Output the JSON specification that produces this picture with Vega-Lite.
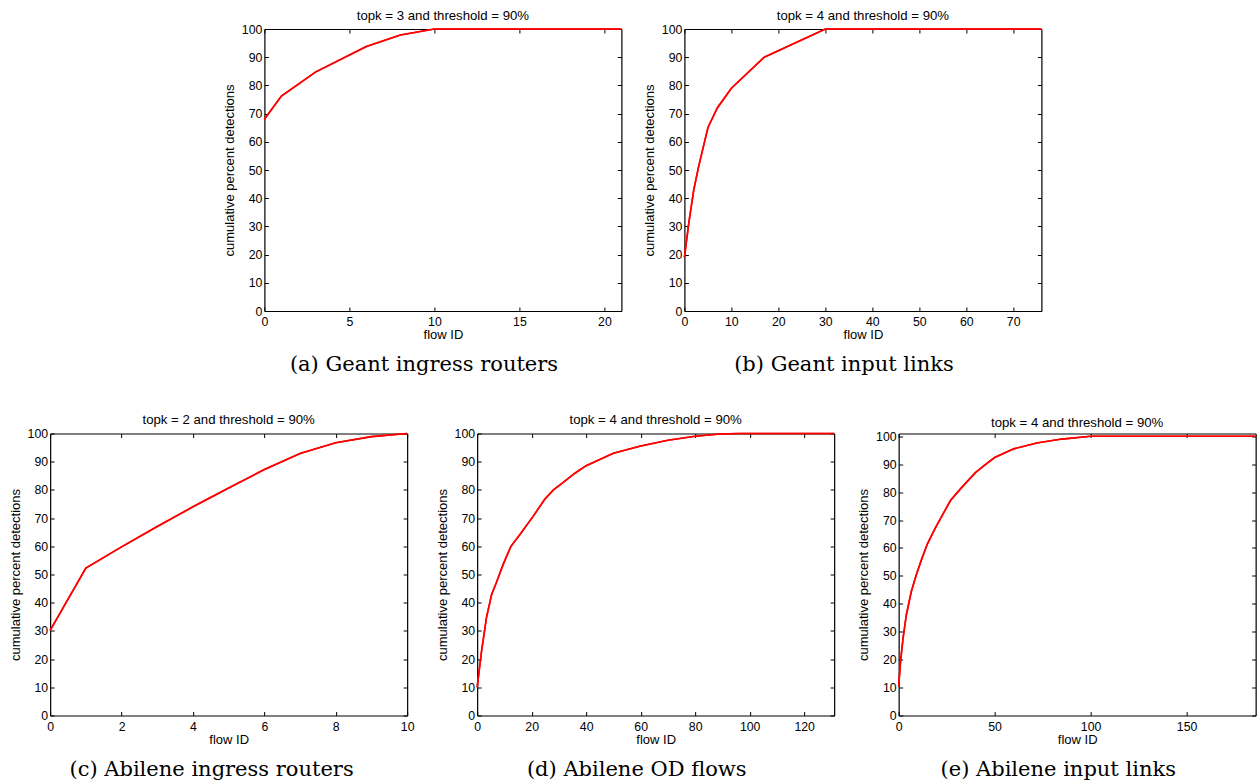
{
  "$schema": "https://vega.github.io/schema/vega-lite/v6.json",
  "background": "white",
  "padding": {"left": 9, "top": 8, "right": 2, "bottom": 2},
  "config": {
    "view": {"stroke": null},
    "axis": {
      "labelFont": "Liberation Sans", "labelFontSize": 12.3, "labelColor": "#000",
      "titleFont": "Liberation Sans", "titleFontSize": 13, "titleFontWeight": "normal", "titleColor": "#000",
      "domainColor": "#000", "domainWidth": 1.2, "tickColor": "#000", "tickSize": -4, "tickWidth": 1,
      "grid": false, "labelFlush": false, "labelOverlap": false
    },
    "axisX": {"titlePadding": 1, "labelPadding": 8.5},
    "axisY": {"titlePadding": 5, "labelPadding": 6.5}
  },
  "datasets": {
    "a": [{"flow":0,"pct":68},{"flow":1,"pct":76.2},{"flow":3,"pct":84.7},{"flow":6,"pct":93.8},{"flow":8,"pct":97.9},{"flow":10,"pct":100},{"flow":21,"pct":100}],
    "b": [{"flow":0,"pct":19},{"flow":1,"pct":32},{"flow":2,"pct":43},{"flow":3,"pct":51},{"flow":5,"pct":65},{"flow":7,"pct":72},{"flow":10,"pct":79},{"flow":17,"pct":90},{"flow":30,"pct":100},{"flow":76,"pct":100}],
    "c": [{"flow":0,"pct":30.2},{"flow":1,"pct":52.3},{"flow":2,"pct":59.8},{"flow":3,"pct":67},{"flow":4,"pct":74},{"flow":5,"pct":80.7},{"flow":6,"pct":87.2},{"flow":7,"pct":92.9},{"flow":8,"pct":96.7},{"flow":9,"pct":98.9},{"flow":10,"pct":100}],
    "d": [{"flow":0,"pct":10},{"flow":1.6,"pct":22.7},{"flow":3.4,"pct":34.6},{"flow":5.3,"pct":42.9},{"flow":7,"pct":47},{"flow":9.5,"pct":53.5},{"flow":12.4,"pct":60},{"flow":15.7,"pct":64.2},{"flow":20.6,"pct":70.7},{"flow":24.8,"pct":76.7},{"flow":28,"pct":80},{"flow":31,"pct":82.2},{"flow":36,"pct":86},{"flow":40,"pct":88.6},{"flow":50,"pct":93},{"flow":60,"pct":95.6},{"flow":70,"pct":97.6},{"flow":80,"pct":99},{"flow":89,"pct":99.8},{"flow":96,"pct":100},{"flow":131,"pct":100}],
    "e": [{"flow":0,"pct":10.4},{"flow":1,"pct":19.4},{"flow":2.3,"pct":27.7},{"flow":4,"pct":36},{"flow":6.6,"pct":44.4},{"flow":9.2,"pct":50.4},{"flow":12,"pct":56},{"flow":15,"pct":61.5},{"flow":19,"pct":67},{"flow":23,"pct":72},{"flow":27,"pct":77},{"flow":33,"pct":81.8},{"flow":40,"pct":87},{"flow":45,"pct":89.8},{"flow":50,"pct":92.4},{"flow":60,"pct":95.5},{"flow":72,"pct":97.6},{"flow":85,"pct":99},{"flow":100,"pct":100},{"flow":186,"pct":100}]
  },
  "center": true,
  "spacing": 36.5,
  "vconcat": [
    {
      "spacing": 17,
      "hconcat": [
        {
          "title": {"text": "(a) Geant ingress routers", "orient": "bottom", "anchor": "middle", "font": "DejaVu Serif", "fontSize": 21, "fontWeight": "normal", "color": "#000", "offset": 12.5},
          "vconcat": [{
            "width": 357, "height": 282,
            "title": {"text": "topk = 3 and threshold = 90%", "font": "Liberation Sans", "fontSize": 13.2, "fontWeight": "normal", "color": "#000", "offset": 0},
            "data": {"name": "a"},
            "layer": [
              {"mark": {"type": "line", "color": "#ff0000", "strokeWidth": 1.6},
               "encoding": {
                 "x": {"field": "flow", "type": "quantitative", "scale": {"domain": [0, 21], "nice": false}, "axis": {"orient": "bottom", "title": "flow ID", "values": [0,5,10,15,20]}},
                 "y": {"field": "pct", "type": "quantitative", "scale": {"domain": [0, 100], "nice": false}, "axis": {"orient": "left", "title": "cumulative percent detections", "values": [0,10,20,30,40,50,60,70,80,90,100]}}}},
              {"mark": {"type": "line", "color": "#ff0000", "strokeWidth": 1.6},
               "encoding": {
                 "x": {"field": "flow", "type": "quantitative", "axis": {"orient": "top", "title": null, "labels": false, "values": [0,5,10,15,20]}},
                 "y": {"field": "pct", "type": "quantitative", "axis": {"orient": "right", "title": null, "labels": false, "values": [0,10,20,30,40,50,60,70,80,90,100]}}}}
            ],
            "resolve": {"axis": {"x": "independent", "y": "independent"}}
          }]
        },
        {
          "title": {"text": "(b) Geant input links", "orient": "bottom", "anchor": "middle", "font": "DejaVu Serif", "fontSize": 21, "fontWeight": "normal", "color": "#000", "offset": 12.5},
          "vconcat": [{
            "width": 357, "height": 282,
            "title": {"text": "topk = 4 and threshold = 90%", "font": "Liberation Sans", "fontSize": 13.2, "fontWeight": "normal", "color": "#000", "offset": 0},
            "data": {"name": "b"},
            "layer": [
              {"mark": {"type": "line", "color": "#ff0000", "strokeWidth": 1.6},
               "encoding": {
                 "x": {"field": "flow", "type": "quantitative", "scale": {"domain": [0, 76], "nice": false}, "axis": {"orient": "bottom", "title": "flow ID", "values": [0,10,20,30,40,50,60,70]}},
                 "y": {"field": "pct", "type": "quantitative", "scale": {"domain": [0, 100], "nice": false}, "axis": {"orient": "left", "title": "cumulative percent detections", "values": [0,10,20,30,40,50,60,70,80,90,100]}}}},
              {"mark": {"type": "line", "color": "#ff0000", "strokeWidth": 1.6},
               "encoding": {
                 "x": {"field": "flow", "type": "quantitative", "axis": {"orient": "top", "title": null, "labels": false, "values": [0,10,20,30,40,50,60,70]}},
                 "y": {"field": "pct", "type": "quantitative", "axis": {"orient": "right", "title": null, "labels": false, "values": [0,10,20,30,40,50,60,70,80,90,100]}}}}
            ],
            "resolve": {"axis": {"x": "independent", "y": "independent"}}
          }]
        }
      ]
    },
    {
      "spacing": 21,
      "hconcat": [
        {
          "title": {"text": "(c) Abilene ingress routers", "orient": "bottom", "anchor": "middle", "font": "DejaVu Serif", "fontSize": 21, "fontWeight": "normal", "color": "#000", "offset": 12.5},
          "vconcat": [{
            "width": 357, "height": 282,
            "title": {"text": "topk = 2 and threshold = 90%", "font": "Liberation Sans", "fontSize": 13.2, "fontWeight": "normal", "color": "#000", "offset": 0},
            "data": {"name": "c"},
            "layer": [
              {"mark": {"type": "line", "color": "#ff0000", "strokeWidth": 1.6},
               "encoding": {
                 "x": {"field": "flow", "type": "quantitative", "scale": {"domain": [0, 10], "nice": false}, "axis": {"orient": "bottom", "title": "flow ID", "values": [0,2,4,6,8,10]}},
                 "y": {"field": "pct", "type": "quantitative", "scale": {"domain": [0, 100], "nice": false}, "axis": {"orient": "left", "title": "cumulative percent detections", "values": [0,10,20,30,40,50,60,70,80,90,100]}}}},
              {"mark": {"type": "line", "color": "#ff0000", "strokeWidth": 1.6},
               "encoding": {
                 "x": {"field": "flow", "type": "quantitative", "axis": {"orient": "top", "title": null, "labels": false, "values": [0,2,4,6,8,10]}},
                 "y": {"field": "pct", "type": "quantitative", "axis": {"orient": "right", "title": null, "labels": false, "values": [0,10,20,30,40,50,60,70,80,90,100]}}}}
            ],
            "resolve": {"axis": {"x": "independent", "y": "independent"}}
          }]
        },
        {
          "spacing": 18.5,
          "hconcat": [
            {
              "title": {"text": "(d) Abilene OD flows", "orient": "bottom", "anchor": "middle", "font": "DejaVu Serif", "fontSize": 21, "fontWeight": "normal", "color": "#000", "offset": 12.5},
              "vconcat": [{
                "width": 357, "height": 282,
                "title": {"text": "topk = 4 and threshold = 90%", "font": "Liberation Sans", "fontSize": 13.2, "fontWeight": "normal", "color": "#000", "offset": 0},
                "data": {"name": "d"},
                "layer": [
                  {"mark": {"type": "line", "color": "#ff0000", "strokeWidth": 1.6},
                   "encoding": {
                     "x": {"field": "flow", "type": "quantitative", "scale": {"domain": [0, 131], "nice": false}, "axis": {"orient": "bottom", "title": "flow ID", "values": [0,20,40,60,80,100,120]}},
                     "y": {"field": "pct", "type": "quantitative", "scale": {"domain": [0, 100], "nice": false}, "axis": {"orient": "left", "title": "cumulative percent detections", "values": [0,10,20,30,40,50,60,70,80,90,100]}}}},
                  {"mark": {"type": "line", "color": "#ff0000", "strokeWidth": 1.6},
                   "encoding": {
                     "x": {"field": "flow", "type": "quantitative", "axis": {"orient": "top", "title": null, "labels": false, "values": [0,20,40,60,80,100,120]}},
                     "y": {"field": "pct", "type": "quantitative", "axis": {"orient": "right", "title": null, "labels": false, "values": [0,10,20,30,40,50,60,70,80,90,100]}}}}
                ],
                "resolve": {"axis": {"x": "independent", "y": "independent"}}
              }]
            },
            {
              "title": {"text": "(e) Abilene input links", "orient": "bottom", "anchor": "middle", "font": "DejaVu Serif", "fontSize": 21, "fontWeight": "normal", "color": "#000", "offset": 12.5},
              "vconcat": [{
                "width": 357, "height": 282,
                "title": {"text": "topk = 4 and threshold = 90%", "font": "Liberation Sans", "fontSize": 13.2, "fontWeight": "normal", "color": "#000", "offset": 0},
                "data": {"name": "e"},
                "layer": [
                  {"mark": {"type": "line", "color": "#ff0000", "strokeWidth": 1.6},
                   "encoding": {
                     "x": {"field": "flow", "type": "quantitative", "scale": {"domain": [0, 186], "nice": false}, "axis": {"orient": "bottom", "title": "flow ID", "values": [0,50,100,150]}},
                     "y": {"field": "pct", "type": "quantitative", "scale": {"domain": [0, 101], "nice": false}, "axis": {"orient": "left", "title": "cumulative percent detections", "values": [0,10,20,30,40,50,60,70,80,90,100]}}}},
                  {"mark": {"type": "line", "color": "#ff0000", "strokeWidth": 1.6},
                   "encoding": {
                     "x": {"field": "flow", "type": "quantitative", "axis": {"orient": "top", "title": null, "labels": false, "values": [0,50,100,150]}},
                     "y": {"field": "pct", "type": "quantitative", "axis": {"orient": "right", "title": null, "labels": false, "values": [0,10,20,30,40,50,60,70,80,90,100]}}}}
                ],
                "resolve": {"axis": {"x": "independent", "y": "independent"}}
              }]
            }
          ]
        }
      ]
    }
  ]
}
